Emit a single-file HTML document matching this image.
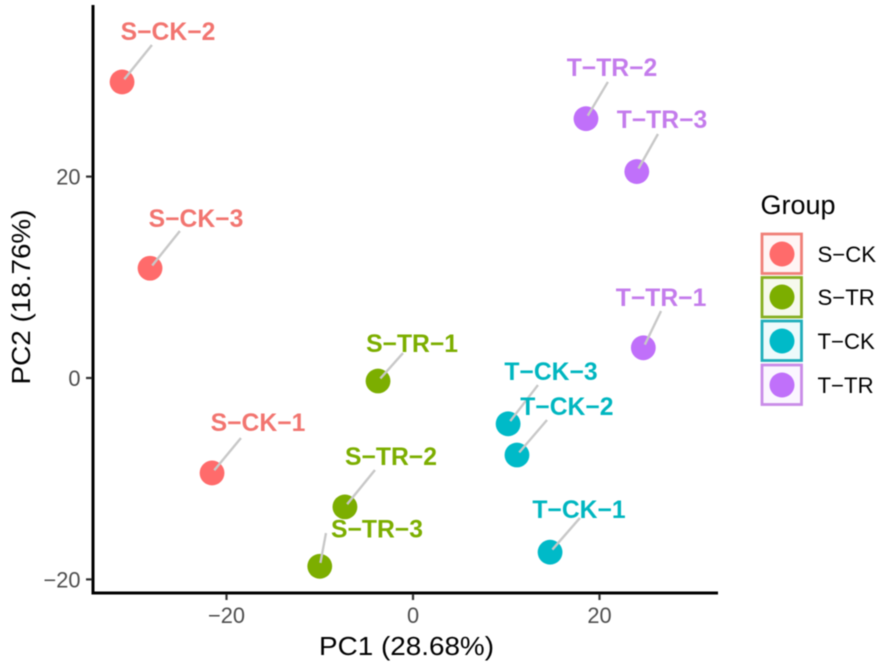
<!DOCTYPE html>
<html lang="en">
<head>
<meta charset="utf-8">
<title>PCA plot</title>
<style>
html,body{margin:0;padding:0;background:#fff}
body{width:886px;height:664px;overflow:hidden}
svg{display:block;font-family:"Liberation Sans",Arial,sans-serif;filter:blur(0.45px)}
</style>
</head>
<body>
<svg id="chart" xmlns="http://www.w3.org/2000/svg" width="886" height="664" viewBox="0 0 886 664">
  <rect x="0" y="0" width="886" height="664" fill="#fff"/>
  <g id="segments"></g>
  <g id="points"></g>
  <g id="labels"></g>
  <g id="axes"></g>
  <text x="406.5" y="655" text-anchor="middle" font-size="26" textLength="175" lengthAdjust="spacingAndGlyphs" fill="#000">PC1 (28.68%)</text>
  <text transform="translate(30,297) rotate(-90)" text-anchor="middle" font-size="26" textLength="175" lengthAdjust="spacingAndGlyphs" fill="#000">PC2 (18.76%)</text>
  <g>
    <text x="760.5" y="214" font-size="27" fill="#000">Group</text>
    <g>
      <rect x="762" y="234" width="39.5" height="39.5" fill="#F8766D" fill-opacity="0.07" stroke="#F08078" stroke-width="2.8"/>
      <circle cx="782" cy="254" r="12.5" fill="#FF6B6B"/>
      <text x="817.5" y="262" font-size="22.2" fill="#000">S−CK</text>
    </g>
    <g>
      <rect x="762" y="277.5" width="39.5" height="39.5" fill="#7CAE00" fill-opacity="0.07" stroke="#86AE20" stroke-width="2.8"/>
      <circle cx="782" cy="297" r="12.5" fill="#7CAE00"/>
      <text x="817.5" y="305" font-size="22.2" fill="#000">S−TR</text>
    </g>
    <g>
      <rect x="762" y="321" width="39.5" height="39.5" fill="#00BFC4" fill-opacity="0.07" stroke="#20AEBB" stroke-width="2.8"/>
      <circle cx="782" cy="341" r="12.5" fill="#00BAC8"/>
      <text x="817.5" y="349" font-size="22.2" fill="#000">T−CK</text>
    </g>
    <g>
      <rect x="762" y="365" width="39.5" height="39.5" fill="#C77CFF" fill-opacity="0.07" stroke="#C98CE8" stroke-width="2.8"/>
      <circle cx="782" cy="385" r="12.5" fill="#C070FA"/>
      <text x="817.5" y="393" font-size="22.2" fill="#000">T−TR</text>
    </g>
  </g>
</svg>
<script>
const sampleNames = ['S−CK−1','S−CK−2','S−CK−3','S−TR−1','S−TR−2','S−TR−3','T−CK−1','T−CK−2','T−CK−3','T−TR−1','T−TR−2','T−TR−3'];
const sampleGroups = ['S-CK','S-CK','S-CK','S-TR','S-TR','S-TR','T-CK','T-CK','T-CK','T-TR','T-TR','T-TR'];
const pc1Values = [-21.55,-31.2,-28.2,-3.75,-7.3,-10,14.7,11.15,10.2,24.7,18.55,24];
const pc2Values = [-9.43,29.4,10.9,-0.3,-12.8,-18.7,-17.3,-7.65,-4.55,3,25.75,20.5];
const labelPc1 = [-16.62,-26.27,-23.27,-0.1,-2.36,-3.86,17.8,16.5,14.8,26.6,21.34,26.7];
const labelPc2 = [-4.47,34.36,15.79,3.38,-7.85,-15,-13.1,-2.88,0.6,7.94,30.78,25.62];
const connectorPc1 = [-18.45,-28,-25,-1.07,-4.08,-9.33,17.9,14.37,13.4,26.6,20.9,26.27];
const connectorPc2 = [-5.96,33.07,14.6,2.48,-9.14,-15.4,-13.9,-4.17,-0.7,6.65,29.4,24.23];
const xTickValues = [-20,0,20];
const yTickValues = [-20,0,20];
const groupNames = ['S-CK','S-TR','T-CK','T-TR'];
const groupPointColors = ['#FF6B6B','#7CAE00','#00BAC8','#C070FA'];
const groupLabelColors = ['#F27570','#7CAE00','#00B6C0','#C47CEC'];

const NS = 'http://www.w3.org/2000/svg';
const xScale = v => 413 + v * 9.325;
const yScale = v => 378 - v * 10.07;
const fmt = v => String(v).replace('-', '−');
const slug = s => s.replace('−', '-').replace('−', '-').toLowerCase();
function make(tag, attrs, parent) {
  const el = document.createElementNS(NS, tag);
  for (const k in attrs) el.setAttribute(k, attrs[k]);
  parent.appendChild(el);
  return el;
}
const gSeg = document.getElementById('segments');
const gPts = document.getElementById('points');
const gLab = document.getElementById('labels');
const gAxes = document.getElementById('axes');

sampleNames.forEach((name, i) => {
  const g = groupNames.indexOf(sampleGroups[i]);
  const cx = xScale(pc1Values[i]), cy = yScale(pc2Values[i]);
  const ex = xScale(connectorPc1[i]), ey = yScale(connectorPc2[i]);
  const len = Math.hypot(ex - cx, ey - cy);
  const sx = cx + (ex - cx) / len * 3.5, sy = cy + (ey - cy) / len * 3.5;

  const pt = make('circle', {cx: cx, cy: cy, r: 12.4, fill: groupPointColors[g]}, gPts);
  
  

  const seg = make('line', {x1: sx, y1: sy, x2: ex, y2: ey, stroke: '#c8c8c8', 'stroke-width': 2.4}, gSeg);
  
  

  const t = make('text', {x: xScale(labelPc1[i]), y: yScale(labelPc2[i]) + 8.2, 'text-anchor': 'middle', 'font-size': 24.7, 'font-weight': 'bold', fill: groupLabelColors[g]}, gLab);
  t.textContent = name;
  
  
});
// connectors sit above the points
gPts.parentNode.insertBefore(gPts, gSeg);

const yLine = make('line', {x1: 93, y1: 5, x2: 93, y2: 594.5, stroke: '#000', 'stroke-width': 3}, gAxes);


const xLine = make('line', {x1: 92, y1: 593, x2: 718, y2: 593, stroke: '#000', 'stroke-width': 3}, gAxes);



xTickValues.forEach(v => {
  const x = xScale(v);
  const tick = make('line', {x1: x, y1: 594, x2: x, y2: 600, stroke: '#333', 'stroke-width': 2.2}, gAxes);
  
  
  const t = make('text', {x: x, y: 623, 'text-anchor': 'middle', 'font-size': 21.8, fill: '#4d4d4d'}, gAxes);
  t.textContent = fmt(v);
  
  
});
yTickValues.forEach(v => {
  const y = yScale(v);
  const tick = make('line', {x1: 86, y1: y, x2: 92, y2: y, stroke: '#333', 'stroke-width': 2.2}, gAxes);
  
  
  const t = make('text', {x: 80.5, y: y + 8, 'text-anchor': 'end', 'font-size': 21.8, fill: '#4d4d4d'}, gAxes);
  t.textContent = fmt(v);
  
  
});
</script>
</body>
</html>
